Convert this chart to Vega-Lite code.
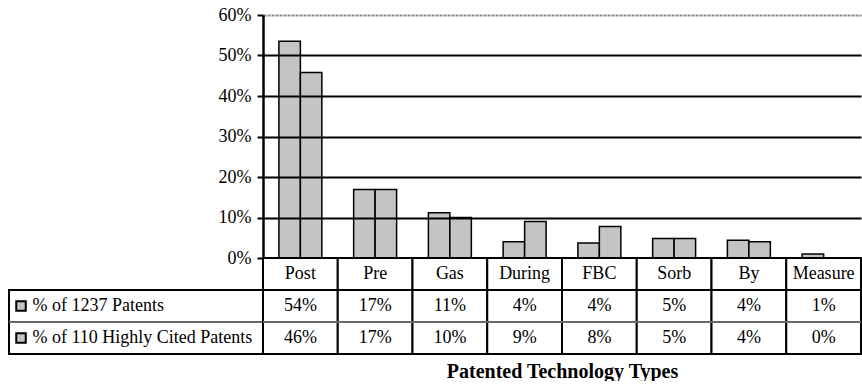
{
  "$schema": "https://vega.github.io/schema/vega-lite/v6.json",
  "padding": {"left": 8, "top": 6, "right": 0, "bottom": 0},
  "config": {
    "font": "Liberation Serif",
    "view": {"stroke": null},
    "axis": {"labelFont": "Liberation Serif", "titleFont": "Liberation Serif"},
    "text": {"font": "Liberation Serif"}
  },
  "datasets": {
    "bars": [
      {"type": "Post", "series": "% of 1237 Patents", "value": 53.5},
      {"type": "Post", "series": "% of 110 Highly Cited Patents", "value": 45.8},
      {"type": "Pre", "series": "% of 1237 Patents", "value": 16.9},
      {"type": "Pre", "series": "% of 110 Highly Cited Patents", "value": 16.9},
      {"type": "Gas", "series": "% of 1237 Patents", "value": 11.2},
      {"type": "Gas", "series": "% of 110 Highly Cited Patents", "value": 10.0},
      {"type": "During", "series": "% of 1237 Patents", "value": 4.0},
      {"type": "During", "series": "% of 110 Highly Cited Patents", "value": 9.0},
      {"type": "FBC", "series": "% of 1237 Patents", "value": 3.7},
      {"type": "FBC", "series": "% of 110 Highly Cited Patents", "value": 7.8},
      {"type": "Sorb", "series": "% of 1237 Patents", "value": 4.8},
      {"type": "Sorb", "series": "% of 110 Highly Cited Patents", "value": 4.8},
      {"type": "By", "series": "% of 1237 Patents", "value": 4.4},
      {"type": "By", "series": "% of 110 Highly Cited Patents", "value": 4.0},
      {"type": "Measure", "series": "% of 1237 Patents", "value": 1.0},
      {"type": "Measure", "series": "% of 110 Highly Cited Patents", "value": 0}
    ],
    "table": [
      {"type": "Post", "row": "header", "label": "Post"},
      {"type": "Pre", "row": "header", "label": "Pre"},
      {"type": "Gas", "row": "header", "label": "Gas"},
      {"type": "During", "row": "header", "label": "During"},
      {"type": "FBC", "row": "header", "label": "FBC"},
      {"type": "Sorb", "row": "header", "label": "Sorb"},
      {"type": "By", "row": "header", "label": "By"},
      {"type": "Measure", "row": "header", "label": "Measure"},
      {"type": "Post", "row": "r1", "label": "54%"},
      {"type": "Pre", "row": "r1", "label": "17%"},
      {"type": "Gas", "row": "r1", "label": "11%"},
      {"type": "During", "row": "r1", "label": "4%"},
      {"type": "FBC", "row": "r1", "label": "4%"},
      {"type": "Sorb", "row": "r1", "label": "5%"},
      {"type": "By", "row": "r1", "label": "4%"},
      {"type": "Measure", "row": "r1", "label": "1%"},
      {"type": "Post", "row": "r2", "label": "46%"},
      {"type": "Pre", "row": "r2", "label": "17%"},
      {"type": "Gas", "row": "r2", "label": "10%"},
      {"type": "During", "row": "r2", "label": "9%"},
      {"type": "FBC", "row": "r2", "label": "8%"},
      {"type": "Sorb", "row": "r2", "label": "5%"},
      {"type": "By", "row": "r2", "label": "4%"},
      {"type": "Measure", "row": "r2", "label": "0%"}
    ],
    "rows": [
      {"row": "r1", "label": "% of 1237 Patents"},
      {"row": "r2", "label": "% of 110 Highly Cited Patents"}
    ],
    "sep": [{"row": "r2"}]
  },
  "columns": 2,
  "spacing": 0,
  "bounds": "flush",
  "concat": [
    {
      "width": 254, "height": 243,
      "data": {"values": [{"row": "blank"}]},
      "mark": {"type": "text", "text": ""},
      "encoding": {}
    },
    {
      "width": 598, "height": 243,
      "data": {"name": "bars"},
      "mark": {"type": "bar", "fill": "#c4c4c4", "stroke": "black", "strokeWidth": 1.5},
      "encoding": {
        "x": {"field": "type", "type": "nominal", "sort": ["Post", "Pre", "Gas", "During", "FBC", "Sorb", "By", "Measure"], "scale": {"paddingInner": 0, "paddingOuter": 0}, "axis": null},
        "xOffset": {"field": "series", "type": "nominal", "sort": ["% of 1237 Patents", "% of 110 Highly Cited Patents"], "scale": {"paddingInner": 0, "paddingOuter": 0.74}},
        "y": {
          "field": "value", "type": "quantitative",
          "scale": {"domain": [0, 60], "nice": false},
          "axis": {
            "values": [0, 10, 20, 30, 40, 50, 60],
            "title": null,
            "labelExpr": "datum.value + '%'",
            "labelFont": "Liberation Serif",
            "labelFontSize": 18, "labelColor": "black", "labelPadding": 6,
            "tickSize": 6, "tickWidth": 2, "tickColor": "black",
            "domainColor": "black", "domainWidth": 2.5,
            "grid": true, "gridWidth": 2,
            "gridColor": {"condition": {"test": "datum.value === 60", "value": "#8c8c8c"}, "value": "black"},
            "gridDash": {"condition": {"test": "datum.value === 60", "value": [3, 1]}, "value": []},
            "zindex": 1
          }
        }
      }
    },
    {
      "width": 254, "height": 96,
      "data": {"name": "rows"},
      "layer": [
        {
          "mark": {"type": "rect", "fill": "white", "stroke": "black", "strokeWidth": 2},
          "encoding": {
            "y": {"field": "row", "type": "nominal", "scale": {"domain": ["header", "r1", "r2"], "paddingInner": 0, "paddingOuter": 0}, "axis": null}
          }
        },
        {
          "data": {"name": "sep"},
          "mark": {"type": "rule", "stroke": "#8c8c8c", "strokeWidth": 1.5},
          "encoding": {
            "y": {"field": "row", "type": "nominal", "bandPosition": 0}
          }
        },
        {
          "mark": {"type": "point", "shape": "square", "size": 90, "filled": true, "fill": "#c4c4c4", "stroke": "black", "strokeWidth": 2, "opacity": 1},
          "encoding": {
            "y": {"field": "row", "type": "nominal"},
            "x": {"value": 12}
          }
        },
        {
          "mark": {"type": "text", "align": "left", "fontSize": 18, "color": "black", "font": "Liberation Serif"},
          "encoding": {
            "y": {"field": "row", "type": "nominal"},
            "x": {"value": 23.5},
            "text": {"field": "label"}
          }
        }
      ]
    },
    {
      "width": 598, "height": 96,
      "data": {"name": "table"},
      "layer": [
        {
          "mark": {"type": "rect", "fill": "white", "stroke": "black", "strokeWidth": 2},
          "encoding": {
            "x": {
              "field": "type", "type": "nominal", "sort": ["Post", "Pre", "Gas", "During", "FBC", "Sorb", "By", "Measure"],
              "scale": {"paddingInner": 0, "paddingOuter": 0},
              "axis": {"orient": "bottom", "labels": false, "ticks": false, "domain": false, "title": "Patented Technology Types", "titleFont": "Liberation Serif", "titleFontSize": 20, "titleFontWeight": "bold", "titleColor": "black", "titlePadding": 7}
            },
            "y": {"field": "row", "type": "nominal", "scale": {"domain": ["header", "r1", "r2"], "paddingInner": 0, "paddingOuter": 0}, "axis": null}
          }
        },
        {
          "data": {"name": "sep"},
          "mark": {"type": "rule", "stroke": "#8c8c8c", "strokeWidth": 1.5},
          "encoding": {
            "y": {"field": "row", "type": "nominal", "bandPosition": 0}
          }
        },
        {
          "mark": {"type": "text", "fontSize": 18, "color": "black", "font": "Liberation Serif"},
          "encoding": {
            "x": {"field": "type", "type": "nominal", "sort": ["Post", "Pre", "Gas", "During", "FBC", "Sorb", "By", "Measure"]},
            "y": {"field": "row", "type": "nominal"},
            "text": {"field": "label"}
          }
        }
      ]
    }
  ]
}
